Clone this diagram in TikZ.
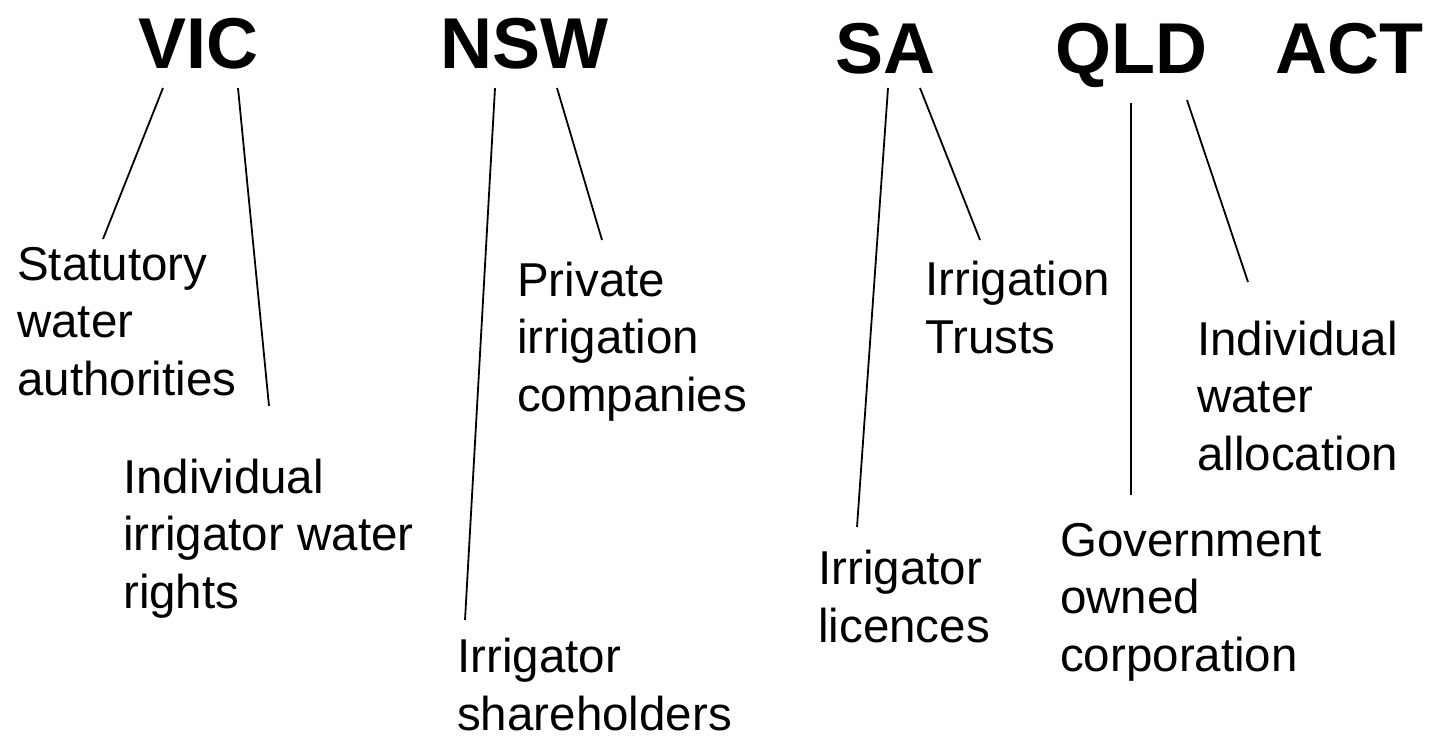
\documentclass[tikz,border=0pt]{standalone}
\usepackage{fontspec}
\setmainfont{Liberation Sans}
\tikzset{
	statename/.style={anchor=base west,inner sep=0pt,font=\fontsize{72}{80}\selectfont\bfseries},
	body/.style={anchor=base west,inner sep=0pt,align=left,font=\fontsize{47.5}{57.5}\selectfont},
	link/.style={line width=1.8pt}
}
\begin{document}
\begin{tikzpicture}[x=1pt,y=-1pt]
	\useasboundingbox (0,0) rectangle (1439,736);
	% states
	\node [statename] (vic) at (138,68) {VIC};
	\node [statename] (nsw) at (440,68) {NSW};
	\node [statename] (sa) at (835,73) {SA};
	\node [statename] (qld) at (1055,73) {QLD};
	\node [statename] (act) at (1275,73) {ACT};
	% bodies (placed at the baseline of their last line)
	\node [body] (statutory) at (17,395) {Statutory\\water\\authorities};
	\node [body] (vicrights) at (123,608) {Individual\\irrigator water\\rights};
	\node [body] (private) at (517,411) {Private\\irrigation\\companies};
	\node [body] (shareholders) at (457,730) {Irrigator\\shareholders};
	\node [body] (trusts) at (925,353) {Irrigation\\Trusts};
	\node [body] (licences) at (818,642) {Irrigator\\licences};
	\node [body] (gov) at (1060,671) {Government\\owned\\corporation};
	\node [body] (allocation) at (1197,470) {Individual\\water\\allocation};
	% line ends
	\coordinate (vicA) at (163,88);
	\coordinate (vicB) at (238,88);
	\coordinate (nswA) at (495,88);
	\coordinate (nswB) at (557,88);
	\coordinate (saA) at (888,88);
	\coordinate (saB) at (920,88);
	\coordinate (qldA) at (1131,103);
	\coordinate (actA) at (1187,100);
	\coordinate (statutoryT) at (103,239);
	\coordinate (vicrightsT) at (269,406);
	\coordinate (shareholdersT) at (465,620);
	\coordinate (privateT) at (602,240);
	\coordinate (licencesT) at (857,527);
	\coordinate (trustsT) at (980,240);
	\coordinate (govT) at (1131,495);
	\coordinate (allocationT) at (1248,282);
	\foreach \a/\b in {vicA/statutoryT,vicB/vicrightsT,nswA/shareholdersT,nswB/privateT,saA/licencesT,saB/trustsT,qldA/govT,actA/allocationT}
	\draw [link] (\a) -- (\b);
\end{tikzpicture}
\end{document}
